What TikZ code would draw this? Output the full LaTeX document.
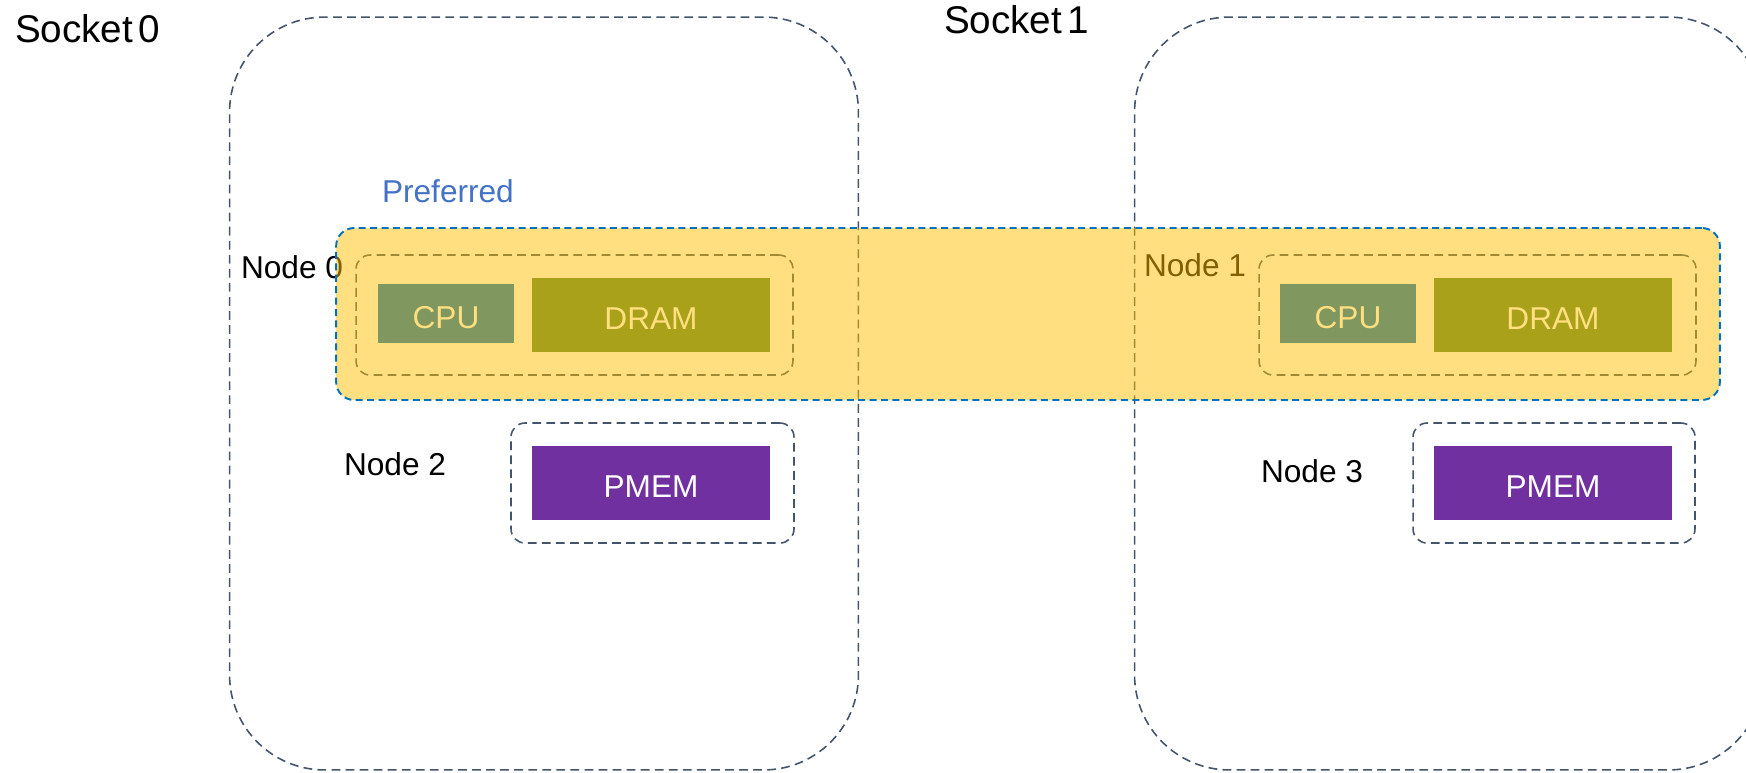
\documentclass[tikz,border=0pt]{standalone}
\usepackage{fontspec}
\setmainfont{Liberation Sans}
\definecolor{sockgray}{HTML}{44546A}
\definecolor{bandgold}{HTML}{FFC000}
\definecolor{bandline}{HTML}{0070C0}
\definecolor{preftext}{HTML}{4472C4}
\definecolor{cpublue}{HTML}{0070C0}
\definecolor{dramgreen}{HTML}{548235}
\definecolor{pmempurple}{HTML}{7030A0}
\begin{document}
\begin{tikzpicture}[x=0.02cm, y=-0.02cm,
        every node/.style={inner sep=0pt, outer sep=0pt},
        socketbox/.style={draw=sockgray, line width=0.9pt, dash pattern=on 5pt off 3pt,
            rounded corners=1.9cm, minimum width=12.58cm, minimum height=15.06cm},
        numabox/.style={draw=sockgray, line width=0.9pt, dash pattern=on 5pt off 3pt,
            rounded corners=0.28cm, minimum height=2.4cm},
        hwbox/.style={text=white, font=\fontsize{18}{20}\selectfont,
            text height=16.5pt, text depth=0pt},
        cpubox/.style={hwbox, fill=cpublue, minimum width=2.72cm, minimum height=1.18cm},
        drambox/.style={hwbox, fill=dramgreen, minimum width=4.76cm, minimum height=1.48cm},
        pmembox/.style={hwbox, fill=pmempurple, minimum width=4.76cm, minimum height=1.48cm},
        lbl/.style={anchor=base west, font=\fontsize{18}{20}\selectfont},
        socklbl/.style={anchor=base west, font=\fontsize{22}{24}\selectfont}]
    \clip (0,0) rectangle (1746,772);

    % sockets
    \node (sock0) at (544,393.5) [socketbox] {};
    \node (sock1) at (1449,393.5) [socketbox] {};

    % numa nodes
    \node (numa0) at (574.5,315) [numabox, minimum width=8.74cm] {};
    \node (numa1) at (1477.5,315) [numabox, minimum width=8.74cm] {};
    \node (numa2) at (652.5,483) [numabox, minimum width=5.66cm] {};
    \node (numa3) at (1554,483) [numabox, minimum width=5.64cm] {};

    \node (cpu0) at (446,313.5) [cpubox] {CPU};
    \node (dram0) at (651,315) [drambox] {DRAM};
    \node (cpu1) at (1348,313.5) [cpubox] {CPU};
    \node (dram1) at (1553,315) [drambox] {DRAM};
    \node (pmem2) at (651,483) [pmembox] {PMEM};
    \node (pmem3) at (1553,483) [pmembox] {PMEM};

    \node (lbl0) at (241,278) [lbl] {Node 0};
    \node (lbl1) at (1144,276) [lbl] {Node 1};
    \node (lbl2) at (344,475) [lbl] {Node 2};
    \node (lbl3) at (1261,482) [lbl] {Node 3};

    % preferred band on top
    \node (pref) at (1028,314) [fill=bandgold, fill opacity=0.5, draw=bandline,
        line width=1.1pt, dash pattern=on 4pt off 2.5pt, rounded corners=0.36cm,
        minimum width=27.68cm, minimum height=3.44cm] {};
    \node (preflbl) at (382,202) [lbl, text=preftext] {Preferred};

    \node (sock0lbl) at (15,42) [socklbl] {Socket\hspace{0.13em}0};
    \node (sock1lbl) at (944,33) [socklbl] {Socket\hspace{0.13em}1};
\end{tikzpicture}
\end{document}
